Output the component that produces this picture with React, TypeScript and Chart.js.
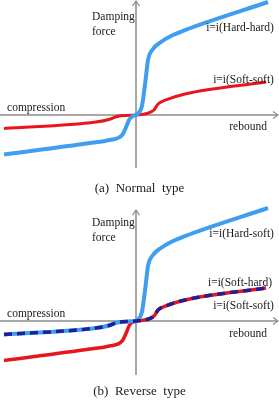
import { useEffect, useRef } from "react";
import { Chart, registerables } from "chart.js";

Chart.register(...registerables);

// Normalised piston velocity (x) and damping force (y) for each valve branch.
// Compression branches run from the far left up to the origin.
const hardCompressionVelocity = [-1.0, -0.35, -0.2, -0.105, -0.068, -0.053, -0.03, 0];
const hardCompressionForce = [-0.35, -0.248, -0.221, -0.177, -0.088, -0.044, -0.013, 0];
const softCompressionVelocity = [-1.0, -0.303, -0.205, -0.144, -0.045, 0];
const softCompressionForce = [-0.119, -0.062, -0.04, -0.013, -0.003, 0];

// Rebound branches run from just right of the origin to the far right.
const hardReboundVelocity = [0.015, 0.045, 0.061, 0.076, 0.091, 0.129, 0.189, 0.265, 0.371, 1.0];
const hardReboundForce = [0.013, 0.08, 0.204, 0.345, 0.487, 0.584, 0.646, 0.699, 0.752, 1.0];
const softReboundVelocity = [0.083, 0.136, 0.167, 0.227, 0.371, 0.985];
const softReboundForce = [0.013, 0.044, 0.097, 0.133, 0.186, 0.292];

const captionNormal = "(a)  Normal  type";
const captionReverse = "(b)  Reverse  type";

type Pt = { x: number; y: number };

const zip = (xs: number[], ys: number[]): Pt[] => xs.map((x, i) => ({ x, y: ys[i] }));
const curve = (cx: number[], cy: number[], rx: number[], ry: number[]): Pt[] => [
  ...zip(cx, cy),
  ...zip(rx, ry),
];

const BLUE = "#3f9ef0";
const RED = "#e8161c";
const NAVY = "#1f1f96";
const AXIS = "#8c8c8c";
const TEXT = "#1a1a1a";
const SERIF = "'Liberation Serif', 'Times New Roman', serif";

type Label = { text: string; x: number; y: number; align: CanvasTextAlign };

type FigureOpts = {
  yAxisFrom: number;
  yAxisTo: number;
  xAxisTo: number;
  labels: Label[];
};

function figurePlugin(cfg: FigureOpts) {
  return {
    id: "damperFigure",
    beforeDatasetsDraw(chart: Chart) {
      const { ctx } = chart;
      const xs = chart.scales.x;
      const ys = chart.scales.y;
      const x0 = xs.getPixelForValue(0);
      const y0 = ys.getPixelForValue(0);
      const xl = xs.left;
      const xr = xs.getPixelForValue(cfg.xAxisTo);
      const yt = ys.getPixelForValue(cfg.yAxisTo);
      const yb = ys.getPixelForValue(cfg.yAxisFrom);
      ctx.save();
      ctx.strokeStyle = AXIS;
      ctx.lineWidth = 1.5;
      ctx.beginPath();
      ctx.moveTo(xl, y0);
      ctx.lineTo(xr, y0);
      ctx.moveTo(x0, yb);
      ctx.lineTo(x0, yt);
      ctx.stroke();
      // open arrowheads
      ctx.lineWidth = 1.2;
      ctx.beginPath();
      ctx.moveTo(xr - 5, y0 - 3.5);
      ctx.lineTo(xr, y0);
      ctx.lineTo(xr - 5, y0 + 3.5);
      ctx.moveTo(x0 - 3.5, yt + 5);
      ctx.lineTo(x0, yt);
      ctx.lineTo(x0 + 3.5, yt + 5);
      ctx.stroke();
      ctx.restore();
    },
    afterDatasetsDraw(chart: Chart) {
      const { ctx } = chart;
      const xs = chart.scales.x;
      const ys = chart.scales.y;
      ctx.save();
      ctx.fillStyle = TEXT;
      ctx.font = `11.5px ${SERIF}`;
      ctx.textBaseline = "alphabetic";
      for (const l of cfg.labels) {
        ctx.textAlign = l.align;
        ctx.fillText(l.text, xs.getPixelForValue(l.x), ys.getPixelForValue(l.y));
      }
      ctx.restore();
    },
  };
}

const axisLabels = (yRebound: number): Label[] => [
  { text: "Damping", x: -0.333, y: 0.841, align: "left" },
  { text: "force", x: -0.333, y: 0.708, align: "left" },
  { text: "compression", x: -0.977, y: 0.035, align: "left" },
  { text: "rebound", x: 0.992, y: yRebound, align: "right" },
];

function makeChart(
  canvas: HTMLCanvasElement,
  datasets: any[],
  yMin: number,
  yMax: number,
  caption: string,
  titlePadding: { top: number; bottom: number },
  fig: FigureOpts
) {
  return new Chart(canvas, {
    type: "scatter",
    data: { datasets },
    options: {
      animation: false,
      responsive: false,
      devicePixelRatio: 1,
      layout: { padding: 0 },
      elements: { point: { radius: 0 } },
      scales: {
        x: { type: "linear", display: false, min: -1.0303, max: 1.0833 },
        y: { type: "linear", display: false, min: yMin, max: yMax },
      },
      plugins: {
        legend: { display: false },
        tooltip: { enabled: false },
        title: {
          display: true,
          position: "bottom",
          text: caption,
          color: TEXT,
          font: { family: SERIF, size: 13, weight: "normal", lineHeight: 1.2 },
          padding: titlePadding,
        },
      },
    },
    plugins: [figurePlugin(fig)],
  });
}

const lineStyle = (color: string, width: number) => ({
  showLine: true,
  borderColor: color,
  backgroundColor: color,
  borderWidth: width,
  pointRadius: 0,
  cubicInterpolationMode: "monotone" as const,
  fill: false,
  borderCapStyle: "butt" as const,
  borderJoinStyle: "round" as const,
});

export default function App() {
  const topRef = useRef<HTMLCanvasElement>(null);
  const bottomRef = useRef<HTMLCanvasElement>(null);

  useEffect(() => {
    const normal = makeChart(
      topRef.current!,
      [
        {
          label: "i=i(Hard-hard)",
          data: curve(hardCompressionVelocity, hardCompressionForce, hardReboundVelocity, hardReboundForce),
          ...lineStyle(BLUE, 4),
          order: 1,
        },
        {
          label: "i=i(Soft-soft)",
          data: curve(softCompressionVelocity, softCompressionForce, softReboundVelocity, softReboundForce),
          ...lineStyle(RED, 3),
          order: 2,
        },
      ],
      -0.4867,
      1.0177,
      captionNormal,
      { top: 11, bottom: 3.4 },
      {
        yAxisFrom: -0.469,
        yAxisTo: 1.009,
        xAxisTo: 1.076,
        labels: [
          ...axisLabels(-0.133),
          { text: "i=i(Hard-hard)", x: 1.045, y: 0.745, align: "right" },
          { text: "i=i(Soft-soft)", x: 1.045, y: 0.283, align: "right" },
        ],
      }
    );

    const reverse = makeChart(
      bottomRef.current!,
      [
        {
          label: "i=i(Soft-hard)",
          data: curve(softCompressionVelocity, softCompressionForce, softReboundVelocity, softReboundForce),
          ...lineStyle(NAVY, 3.5),
          borderDash: [8, 5],
          order: 0,
        },
        {
          label: "i=i(Hard-soft)",
          data: curve(softCompressionVelocity, softCompressionForce, hardReboundVelocity, hardReboundForce),
          ...lineStyle(BLUE, 4),
          order: 1,
        },
        {
          label: "i=i(Soft-soft)",
          data: curve(hardCompressionVelocity, hardCompressionForce, softReboundVelocity, softReboundForce),
          ...lineStyle(RED, 3.5),
          order: 2,
        },
      ],
      -0.5221,
      1.0708,
      captionReverse,
      { top: 4, bottom: 1.4 },
      {
        yAxisFrom: -0.478,
        yAxisTo: 0.982,
        xAxisTo: 1.076,
        labels: [
          ...axisLabels(-0.142),
          { text: "i=i(Hard-soft)", x: 1.045, y: 0.745, align: "right" },
          { text: "i=i(Soft-hard)", x: 1.03, y: 0.31, align: "right" },
          { text: "i=i(Soft-soft)", x: 1.045, y: 0.106, align: "right" },
        ],
      }
    );

    return () => {
      normal.destroy();
      reverse.destroy();
    };
  }, []);

  return (
    <div
      style={{
        position: "absolute",
        left: 0,
        top: 0,
        width: 279,
        height: 401,
        background: "#ffffff",
      }}
    >
      <canvas ref={topRef} width={279} height={200} style={{ display: "block" }} />
      <canvas ref={bottomRef} width={279} height={201} style={{ display: "block" }} />
    </div>
  );
}
